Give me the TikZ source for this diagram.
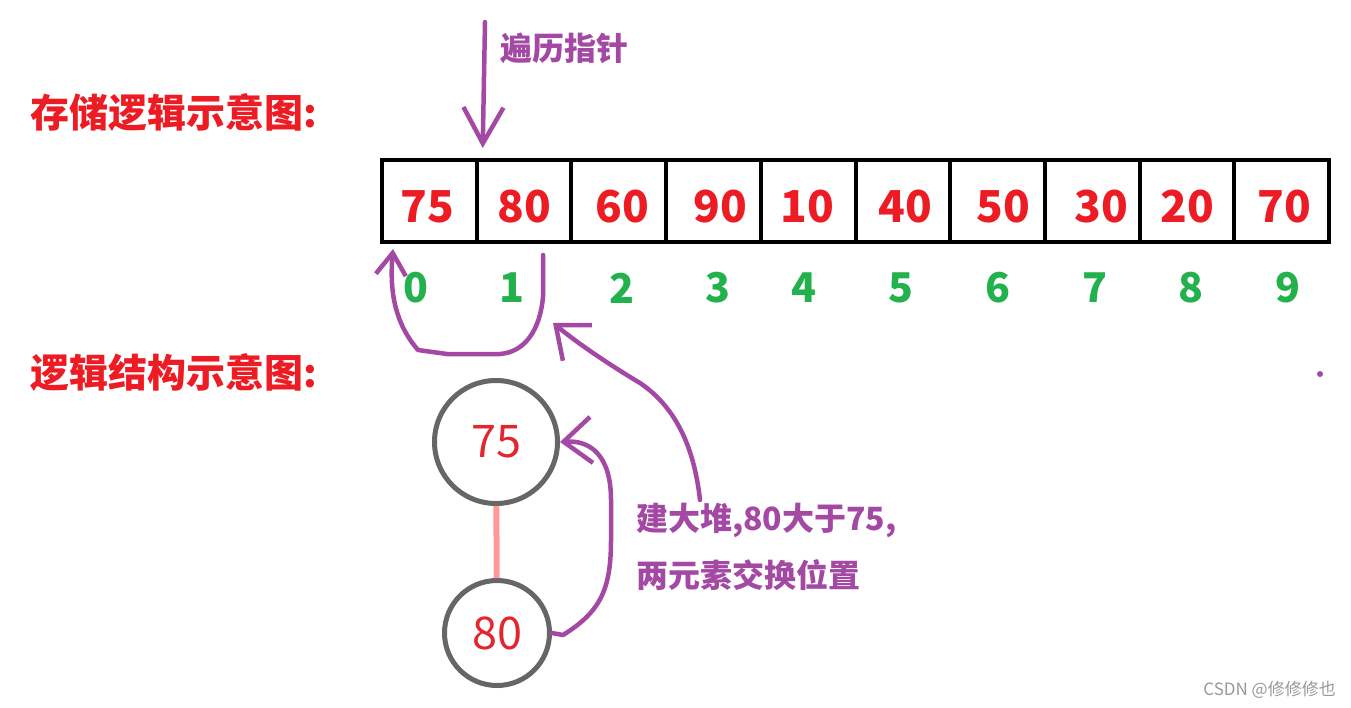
\documentclass[tikz,border=0pt]{standalone}
\usepackage{fontspec}
\setmainfont{Noto Sans CJK SC}
\usetikzlibrary{arrows.meta, positioning}
\definecolor{hdred}{HTML}{ED1C24}
\definecolor{idxgreen}{HTML}{22B14C}
\definecolor{ptrpurple}{HTML}{A349A4}
\definecolor{ringgray}{HTML}{666666}
\definecolor{keyred}{HTML}{E3262D}
\definecolor{edgepink}{HTML}{FF9999}
\definecolor{markgray}{HTML}{999999}

\begin{document}
\begin{tikzpicture}[x=1pt, y=-1pt,
          title/.style={anchor=west, inner sep=0pt, text=hdred,
                        font=\fontsize{39}{44}\selectfont\bfseries},
          cell/.style={draw, line width=4pt, minimum width=94.7, minimum height=82,
                       inner sep=0pt},
          val/.style={inner sep=0pt, text=hdred,
                      font=\fontsize{44}{48}\selectfont\bfseries},
          idx/.style={inner sep=0pt, text=idxgreen,
                      font=\fontsize{41}{46}\selectfont\bfseries},
          key/.style={circle, draw=ringgray, line width=5pt, inner sep=0pt,
                      text=keyred, font=\fontsize{45}{50}\selectfont},
          note/.style={anchor=west, inner sep=0pt, text=ptrpurple,
                       font=\fontsize{32}{36}\selectfont\bfseries},
          parr/.style={ptrpurple, line width=4.5pt, line cap=round, line join=round},
          tipbig/.style={-{Straight Barb[length=36pt, width=40pt]}},
          tipmid/.style={-{Straight Barb[length=28pt, width=46pt]}},
          tipsmall/.style={-{Straight Barb[length=22pt, width=30pt]}}
        ]
        \useasboundingbox (0,0) rectangle (1351,707);

        \node[title] (store) at (30,113) {存储逻辑示意图:};
        \node[title] (logic) at (30,373) {逻辑结构示意图:};

        \foreach \v/\tx/\ix [count=\i from 0] in {75/427/416, 80/524/512, 60/622/622,
                    90/720/718, 10/807/804, 40/905/901, 50/1003/998, 30/1101/1095,
                    20/1187/1191, 70/1284/1288} {
          \node[cell] (c\i) at ({429.35+94.7*\i},201) {};
          \node[val] (v\i) at (\tx,207) {\v};
          \node[idx] (i\i) at (\ix,288) {\i};
        }

        \node[note] (ptr) at (500,48) {遍历指针};
        \coordinate (ptrtop) at (485,22);
        \draw[parr, tipbig] (ptrtop) -- ([xshift=8pt, yshift=10pt]c1.north west);

        \node[key, minimum size=123] (n75) at (496,442) {75};
        \node[key, minimum size=105] (n80) at (497,633) {80};
        \draw[edgepink, line width=6pt] (n75) -- (n80);

        \node[note] (lbl1) at (636,520) {建大堆,80大于75,};
        \node[note] (lbl2) at (636,575) {两元素交换位置};

        \draw[parr, tipsmall] ([xshift=19pt, yshift=-11pt]c1.south) -- (543,297)
          .. controls (540,330) and (525,352) .. (500,354) -- (447,354) -- (418,350)
          .. controls (392,320) and (390,285) .. ([xshift=13pt, yshift=-5pt]c0.south west);
        \draw[parr, tipmid] ([xshift=64pt, yshift=20pt]lbl1.west)
          .. controls (695,455) and (680,410) .. (640,383)
          .. controls (610,365) and (580,345) .. ([xshift=41pt, yshift=-35pt]i1.center);
        \draw[parr, tipmid] (n80.east) -- (563,635)
          .. controls (600,612) and (611,590) .. (611,540) -- (611,500)
          .. controls (611,455) and (590,440) .. (n75.east);

        \fill[ptrpurple] (1320,374) circle (3);
        \node[inner sep=0pt, anchor=east, text=markgray,
              font=\fontsize{17}{20}\selectfont] (mark) at (1336,690) {CSDN @修修修也};
      \end{tikzpicture}
\end{document}
